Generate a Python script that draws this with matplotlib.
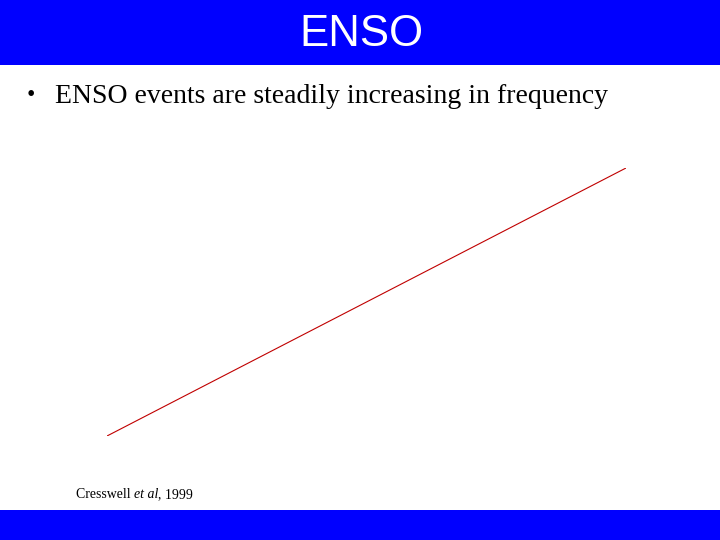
import matplotlib.pyplot as plt
from matplotlib.patches import Rectangle

# slide content
title = "ENSO"
bullet = "ENSO events are steadily increasing in frequency"
citation_pre = "Cresswell "
citation_it = "et al"
citation_post = ", 1999"

# trend line (relative units, start -> end)
trend_x = [0.0, 1.0]
trend_y = [0.0, 1.0]

W, H = 720, 540
fig = plt.figure(figsize=(7.2, 5.4), dpi=100)
fig.patch.set_facecolor("white")

# header and footer bars
fig.patches.append(Rectangle((0, 1 - 65 / H), 1, 65 / H, transform=fig.transFigure,
                             facecolor="#0000ff", edgecolor="none", zorder=0))
fig.patches.append(Rectangle((0, 0), 1, 30 / H, transform=fig.transFigure,
                             facecolor="#0000ff", edgecolor="none", zorder=0))

fig.text(361 / W, 1 - 34 / H, title, color="white", fontsize=31.5,
         family="Liberation Sans", ha="center", va="center")

fig.text(31 / W, 1 - 95 / H, "\u2022", fontsize=17, family="Liberation Serif",
         ha="center", va="center")
fig.text(55 / W, 1 - 103 / H, bullet, fontsize=20, family="Liberation Serif",
         ha="left", va="baseline")

# citation
t = fig.text(76 / W, 1 - 498 / H, citation_pre, fontsize=10, family="Liberation Serif",
             ha="left", va="baseline")
fig.canvas.draw()
r = fig.canvas.get_renderer()
bb = t.get_window_extent(r)
t2 = fig.text(bb.x1 / W, 1 - 498 / H, citation_it, fontsize=10, family="Liberation Serif",
              style="italic", ha="left", va="baseline")
bb2 = t2.get_window_extent(r)
fig.text(bb2.x1 / W, 1 - 498 / H, citation_post, fontsize=10, family="Liberation Serif",
         ha="left", va="baseline")

# trend line
ax = fig.add_axes([107 / W, 1 - 436 / H, (626 - 107) / W, (436 - 168) / H])
ax.plot(trend_x, trend_y, color="#c00000", linewidth=0.8)
ax.set_xlim(0, 1)
ax.set_ylim(0, 1)
ax.axis("off")

fig.savefig("out.png", dpi=100)
